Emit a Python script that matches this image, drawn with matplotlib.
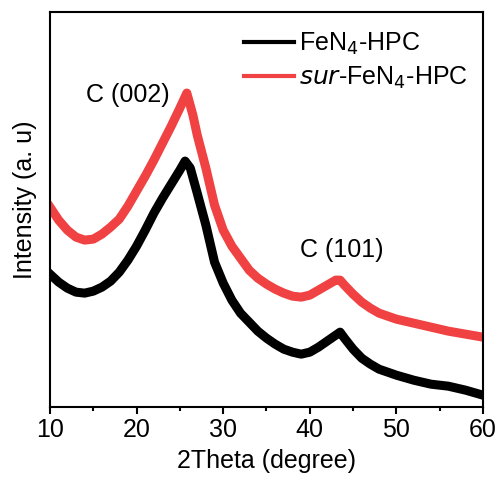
import numpy as np
import matplotlib
matplotlib.use("Agg")
import matplotlib.pyplot as plt
from matplotlib.lines import Line2D
from matplotlib.ticker import MultipleLocator

plt.rcParams['font.family'] = ['Liberation Sans', 'DejaVu Sans']

# 2theta positions (degree) and intensities (a.u.)
two_theta_black = [10, 11, 12, 13, 14, 15, 16, 17, 18, 19, 20, 21, 22, 23, 24, 25, 25.6, 26.2,
                   27, 28, 29, 30, 31, 32, 33, 34, 35, 36, 37, 38, 39, 40, 41, 42, 43, 43.5,
                   44, 45, 46, 47, 48, 49, 50, 52, 54, 56, 58, 60]
intensity_black = [133, 125, 119, 115, 114, 116, 120, 126, 135, 147, 161, 177, 194, 209, 223, 237, 246, 239,
                   214, 182, 145, 124, 107, 94, 85, 76, 69, 63, 58, 55, 53, 55, 60, 66, 72, 75,
                   69, 58, 49, 43, 38, 35, 32, 27, 23, 21, 17, 12]

two_theta_red = [10, 11, 12, 13, 14, 15, 16, 17, 18, 19, 20, 21, 22, 23, 24, 25, 25.8, 26.5,
                 27, 28, 29, 30, 31, 32, 33, 34, 35, 36, 37, 38, 39, 40, 41, 42, 43, 43.5,
                 44, 45, 46, 47, 48, 49, 50, 52, 54, 56, 58, 60]
intensity_red = [200, 187, 177, 170, 167, 168, 173, 180, 188, 201, 216, 231, 247, 264, 281, 299, 314, 292,
                 272, 239, 202, 177, 161, 149, 137, 129, 123, 118, 114, 111, 110, 112, 117, 122, 127, 127,
                 122, 113, 105, 99, 94, 91, 88, 84, 80, 76, 73, 70]

labels = ['FeN$_4$-HPC', '$\\mathit{sur}$-FeN$_4$-HPC']
colors = ['black', '#f04242']

fig = plt.figure(figsize=(5.02, 4.90), dpi=100)
ax = fig.add_axes([0.0996, 0.169, 0.8625, 0.8065])

ax.plot(two_theta_black, intensity_black, color=colors[0], lw=6.5, solid_joinstyle='round')
ax.plot(two_theta_red, intensity_red, color=colors[1], lw=6.5, solid_joinstyle='round')

ax.set_xlim(10, 60)
ax.set_ylim(0, 395)
ax.set_yticks([])
ax.xaxis.set_major_locator(MultipleLocator(10))
ax.xaxis.set_minor_locator(MultipleLocator(5))
ax.tick_params(axis='x', which='major', direction='out', length=5, width=1.5, labelsize=18, pad=3)
ax.tick_params(axis='x', which='minor', direction='out', length=3, width=1.5)
for s in ax.spines.values():
    s.set_linewidth(1.5)

ax.set_xlabel('2Theta (degree)', fontsize=18, labelpad=5)
ax.set_ylabel('Intensity (a. u)', fontsize=18)
ax.yaxis.set_label_coords(-0.03, 0.525)

ax.text(19.0, 312, 'C (002)', fontsize=18, ha='center', va='center')
ax.text(43.7, 157, 'C (101)', fontsize=18, ha='center', va='center')

handles = [Line2D([], [], color=c, lw=3) for c in colors]
ax.legend(handles, labels, loc='upper right', fontsize=18, frameon=False,
          handlelength=2.0, handletextpad=0.2, labelspacing=0.3,
          borderaxespad=0.2, bbox_to_anchor=(1.0, 0.99))

fig.savefig('out.png', dpi=100)
